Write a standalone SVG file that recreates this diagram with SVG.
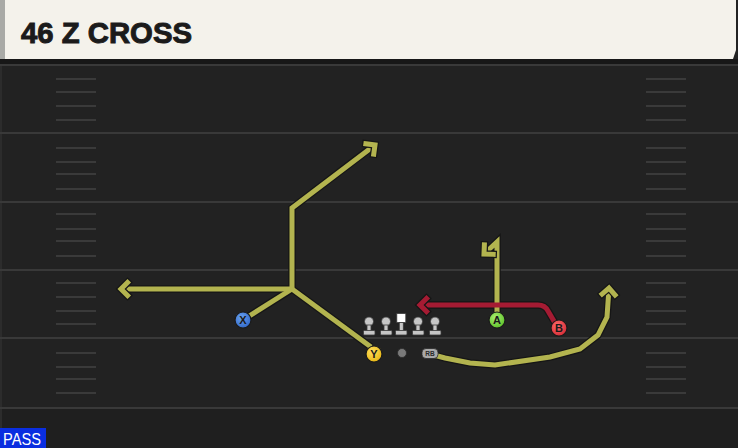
<svg xmlns="http://www.w3.org/2000/svg" width="738" height="448" viewBox="0 0 738 448">
<defs>
<style>
.hash{stroke:#3a3a3a;stroke-width:2}
.yard{stroke:#393939;stroke-width:2}
.out{fill:none;stroke:#161616;stroke-width:7.5;stroke-linejoin:miter;stroke-linecap:butt}
.ry{fill:none;stroke:#b3b44f;stroke-width:5;stroke-linejoin:miter}
.rr{fill:none;stroke:#a51b33;stroke-width:5;stroke-linejoin:round}
.lbl{font-family:"Liberation Sans",Arial,sans-serif;font-weight:bold;font-size:11px;fill:#1a1a1a;text-anchor:middle}
.lm{fill:#c6c6c6;stroke:#3a3a3a;stroke-width:0.8}
</style>
<marker id="ay" markerUnits="userSpaceOnUse" viewBox="-12 -12 24 24" markerWidth="24" markerHeight="24" refX="0" refY="0" orient="auto" overflow="visible">
<path d="M-6.5,-6.5 L0,0 L-6.5,6.5" fill="none" stroke="#161616" stroke-width="7.5" stroke-linecap="square"/>
<path d="M-6.5,-6.5 L0,0 L-6.5,6.5" fill="none" stroke="#b3b44f" stroke-width="5" stroke-linecap="square"/>
</marker>
<marker id="ar" markerUnits="userSpaceOnUse" viewBox="-12 -12 24 24" markerWidth="24" markerHeight="24" refX="0" refY="0" orient="auto" overflow="visible">
<path d="M-6.5,-6.5 L0,0 L-6.5,6.5" fill="none" stroke="#161616" stroke-width="7.5" stroke-linecap="square"/>
<path d="M-6.5,-6.5 L0,0 L-6.5,6.5" fill="none" stroke="#a51b33" stroke-width="5" stroke-linecap="square"/>
</marker>
<radialGradient id="gX" cx="0.4" cy="0.35" r="0.7"><stop offset="0" stop-color="#6aa2f0"/><stop offset="1" stop-color="#2f66c6"/></radialGradient>
<radialGradient id="gY" cx="0.4" cy="0.35" r="0.7"><stop offset="0" stop-color="#ffe060"/><stop offset="1" stop-color="#e6b410"/></radialGradient>
<radialGradient id="gA" cx="0.4" cy="0.35" r="0.7"><stop offset="0" stop-color="#a8f070"/><stop offset="1" stop-color="#5cc028"/></radialGradient>
<radialGradient id="gB" cx="0.4" cy="0.35" r="0.7"><stop offset="0" stop-color="#ff6a6a"/><stop offset="1" stop-color="#d42a34"/></radialGradient>
</defs>

<!-- field -->
<rect x="0" y="0" width="738" height="448" fill="#222222"/>
<rect x="0" y="59" width="738" height="6" fill="#171717"/>
<rect x="0" y="408" width="738" height="40" fill="#1f1f1f"/>
<rect x="0" y="65" width="2" height="383" fill="#2c2c2c"/>
<g id="yardlines">
<line class="yard" x1="0" y1="65" x2="738" y2="65"/>
<line class="yard" x1="0" y1="133" x2="738" y2="133"/>
<line class="yard" x1="0" y1="202" x2="738" y2="202"/>
<line class="yard" x1="0" y1="270" x2="738" y2="270"/>
<line class="yard" x1="0" y1="338" x2="738" y2="338"/>
<line class="yard" x1="0" y1="408" x2="738" y2="408"/>
</g>
<g id="hashes">
<path class="hash" d="M56,79H96M56,92H96M56,106H96M56,120H96M56,148H96M56,162H96M56,174H96M56,189H96M56,214H96M56,229H96M56,241H96M56,256H96M56,283H96M56,297H96M56,311H96M56,324H96M56,353H96M56,367H96M56,379H96M56,393H96"/>
<path class="hash" d="M646,79H686M646,92H686M646,106H686M646,120H686M646,148H686M646,162H686M646,174H686M646,189H686M646,214H686M646,229H686M646,241H686M646,256H686M646,283H686M646,297H686M646,311H686M646,324H686M646,353H686M646,367H686M646,379H686M646,393H686"/>
</g>

<!-- header -->
<g id="header">
<path d="M0,0 H736 V50 L733,59 H0 Z" fill="#f4f2eb"/>
<rect x="0" y="0" width="5" height="59" fill="#a9aaa6"/>
<text x="21" y="43" font-family="'Liberation Sans',Arial,sans-serif" font-weight="bold" font-size="30" fill="#1b1b1b" stroke="#1b1b1b" stroke-width="1" textLength="171" lengthAdjust="spacingAndGlyphs">46 Z CROSS</text>
</g>

<!-- connectors -->
<g id="connectors">
<path class="out" d="M243,320 L292,289"/>
<path class="out" d="M292,289 L371,347"/>
<path class="out" d="M292,289 H125"/>
<path class="out" d="M292,289 V208 L372,147"/>
<path class="out" d="M497,320 V242 L487,252"/>
<path class="out" d="M430,354 L445,358 L470,363 L495,365 L550,357 L580,349 L598,335 L607,317 L609,292"/>
<path class="out" d="M558,328 L548,311 Q545,305 538,305 H424"/>
<path class="ry" d="M243,320 L292,289"/>
<path class="ry" d="M292,289 L371,347"/>
<path class="ry" d="M292,289 H121" marker-end="url(#ay)"/>
<path class="ry" d="M292,289 V208 L375,145" marker-end="url(#ay)"/>
<path class="ry" d="M497,320 V242 L484,254" marker-end="url(#ay)"/>
<path class="ry" d="M430,354 L445,358 L470,363 L495,365 L550,357 L580,349 L598,335 L607,317 L609,288" marker-end="url(#ay)"/>
<path class="rr" d="M558,328 L548,311 Q545,305 538,305 H420" marker-end="url(#ar)"/>
</g>

<!-- line -->
<g id="linemen">
<g id="lt"><circle class="lm" cx="369" cy="321.5" r="4.5"/><rect class="lm" x="367" y="325" width="4" height="6"/><rect class="lm" x="363.5" y="330.5" width="11.5" height="4.5" rx="1"/></g>
<g id="lg"><circle class="lm" cx="386" cy="321.5" r="4.5"/><rect class="lm" x="384" y="325" width="4" height="6"/><rect class="lm" x="380.5" y="330.5" width="11.5" height="4.5" rx="1"/></g>
<g id="c"><rect x="396.8" y="313.5" width="9" height="9" fill="#ffffff" stroke="#3a3a3a" stroke-width="0.8"/><rect class="lm" x="399.3" y="322.5" width="4" height="8.5"/><rect class="lm" x="395.5" y="330.5" width="11.5" height="4.5" rx="1"/></g>
<g id="rg"><circle class="lm" cx="418" cy="321.5" r="4.5"/><rect class="lm" x="416" y="325" width="4" height="6"/><rect class="lm" x="412.5" y="330.5" width="11.5" height="4.5" rx="1"/></g>
<g id="rt"><circle class="lm" cx="435" cy="321.5" r="4.5"/><rect class="lm" x="433" y="325" width="4" height="6"/><rect class="lm" x="429.5" y="330.5" width="11.5" height="4.5" rx="1"/></g>
</g>

<g id="qb"><circle cx="402" cy="353" r="4.5" fill="#7a7a7a" stroke="#2a2a2a" stroke-width="0.8"/></g>
<g id="rb"><rect x="422" y="348.5" width="16" height="10" rx="4" fill="#a9a9a9" stroke="#2a2a2a" stroke-width="0.8"/><text x="430" y="356.3" font-family="'Liberation Sans',Arial,sans-serif" font-weight="bold" font-size="6.5" fill="#2a2a2a" text-anchor="middle">RB</text></g>

<g id="X"><circle cx="243" cy="320" r="8" fill="url(#gX)" stroke="#1a1a1a" stroke-width="1.2"/><text class="lbl" x="243" y="324">X</text></g>
<g id="Y"><circle cx="374" cy="354" r="8" fill="url(#gY)" stroke="#1a1a1a" stroke-width="1.2"/><text class="lbl" x="374" y="358">Y</text></g>
<g id="A"><circle cx="497" cy="320" r="8" fill="url(#gA)" stroke="#1a1a1a" stroke-width="1.2"/><text class="lbl" x="497" y="324">A</text></g>
<g id="B"><circle cx="559" cy="328" r="8" fill="url(#gB)" stroke="#1a1a1a" stroke-width="1.2"/><text class="lbl" x="559" y="332">B</text></g>

<g id="pass">
<rect x="0" y="428" width="46" height="20" fill="#0a2ee0"/>
<text x="3" y="445" font-family="'Liberation Sans',Arial,sans-serif" font-size="16" fill="#ffffff" textLength="38" lengthAdjust="spacingAndGlyphs">PASS</text>
</g>
</svg>
